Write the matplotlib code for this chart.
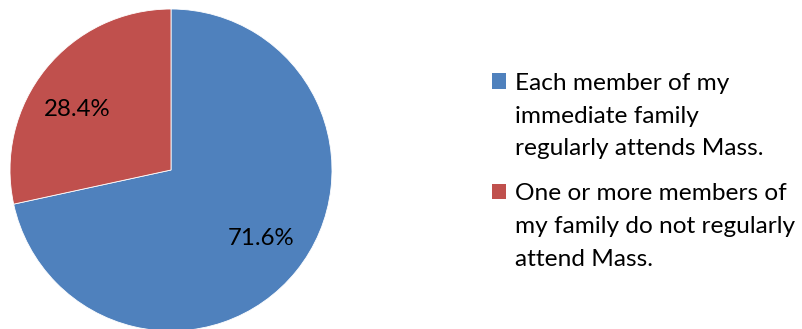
import matplotlib
matplotlib.use("Agg")
import matplotlib.pyplot as plt
from matplotlib.patches import Rectangle
from matplotlib.legend_handler import HandlerPatch
from matplotlib.transforms import offset_copy

plt.rcParams['font.family'] = ['Lato', 'DejaVu Sans']

labels = ["Each member of my\nimmediate family\nregularly attends Mass.",
          "One or more members of\nmy family do not regularly\nattend Mass."]
values = [71.6, 28.4]
colors = ["#4F81BD", "#C0504D"]


class FirstLineSquare(HandlerPatch):
    # legend square next to the first line of a multi-line label
    def __init__(self, shift, **kw):
        super().__init__(**kw)
        self.shift = shift

    def create_artists(self, legend, orig_handle, xdescent, ydescent,
                       width, height, fontsize, trans):
        p = Rectangle((-xdescent, -ydescent + self.shift), width, height)
        self.update_prop(p, orig_handle, legend)
        p.set_edgecolor("none")
        p.set_transform(trans)
        return [p]


fig = plt.figure(figsize=(8.02, 3.29), dpi=100, facecolor="white")
ax = fig.add_axes([10 / 802, -2 / 329, 322 / 802, 322 / 329])

wedges, texts, autotexts = ax.pie(
    values, colors=colors, startangle=90, counterclock=False,
    autopct="%.1f%%", pctdistance=0.72, radius=1.0,
    wedgeprops=dict(edgecolor="white", linewidth=0.6),
    textprops=dict(fontsize=17.3, color="black"))
ax.set_xlim(-1, 1)
ax.set_ylim(-1, 1)
ax.set_aspect("equal")

# small nudges of the percentage labels (points)
nudges = [(0, 3), (-2.5, -8.5)]
for t, (dx, dy) in zip(autotexts, nudges):
    t.set_transform(offset_copy(t.get_transform(), fig=fig, x=dx, y=dy, units="points"))

fs = 17.6
leg = fig.legend(wedges, labels, loc="upper left",
                 bbox_to_anchor=(492 / 802, 1 - 73 / 329),
                 frameon=False, fontsize=fs,
                 handlelength=0.59, handleheight=0.59, handletextpad=0.37,
                 labelspacing=0.98, borderpad=0, borderaxespad=0,
                 handler_map={w: FirstLineSquare(25.3) for w in wedges})
for t in leg.get_texts():
    t.set_linespacing(1.69)

fig.savefig("out.png", dpi=100)
